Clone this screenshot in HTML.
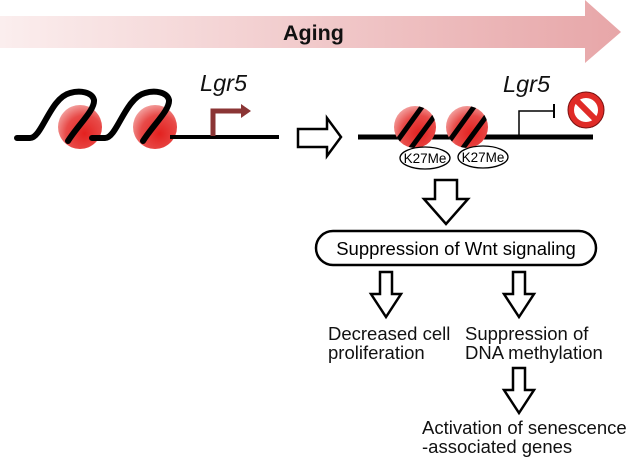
<!DOCTYPE html>
<html><head><style>
body{margin:0;width:628px;height:458px;background:#fff;overflow:hidden}
svg{display:block}
text{font-family:"Liberation Sans",Arial,sans-serif}
</style></head><body>
<svg width="628" height="458" viewBox="0 0 628 458">
<defs>
<linearGradient id="ag" x1="0" x2="1" y1="0" y2="0">
<stop offset="0" stop-color="#fbeeee"/><stop offset="1" stop-color="#e7a6a8"/>
</linearGradient>
<radialGradient id="nuc" cx="0.6" cy="0.65" r="0.7">
<stop offset="0" stop-color="#e3211f"/><stop offset="0.6" stop-color="#e84a48"/><stop offset="1" stop-color="#f3a5a3"/>
</radialGradient>
<clipPath id="c1"><circle cx="415" cy="127" r="21"/></clipPath>
<clipPath id="c2"><circle cx="467" cy="127" r="21"/></clipPath>
</defs>
<polygon points="0,16 585,16 585,0 621,32 585,63 585,48 0,48" fill="url(#ag)"/>
<text x="283" y="40" font-size="21.5" font-weight="bold" fill="#111">Aging</text>

<!-- left -->
<circle cx="80" cy="127" r="22" fill="url(#nuc)"/>
<circle cx="155" cy="127" r="22" fill="url(#nuc)"/>
<line x1="170" y1="137" x2="279" y2="137" stroke="#000" stroke-width="4"/>
<path d="M17,138 L30,138 C42,138 50,98 70,93 C80,90 92,92 94,100 C95,110 78,125 68,141" fill="none" stroke="#000" stroke-width="6" stroke-linecap="round"/>
<path d="M92,138 L105,138 C117,138 125,98 145,93 C155,90 167,92 169,100 C170,110 153,125 143,141" fill="none" stroke="#000" stroke-width="6" stroke-linecap="round"/>
<path d="M213,136 L213,111 L243,111" fill="none" stroke="#8b3535" stroke-width="5"/>
<polygon points="241,104 251,111 241,118" fill="#8b3535"/>
<text x="200" y="91" font-size="23.5" font-style="italic" fill="#111">Lgr5</text>

<polygon points="298,129 327,129 327,118 341,137 327,156 327,147 298,147" fill="#fff" stroke="#000" stroke-width="2.5"/>

<!-- right -->
<line x1="358" y1="137" x2="593" y2="137" stroke="#000" stroke-width="5"/>
<circle cx="415" cy="127" r="21" fill="url(#nuc)"/>
<circle cx="467" cy="127" r="21" fill="url(#nuc)"/>
<g clip-path="url(#c1)" stroke="#000" stroke-width="5">
<line x1="398" y1="140" x2="424" y2="104"/><line x1="408" y1="152" x2="436" y2="114"/>
</g>
<g clip-path="url(#c2)" stroke="#000" stroke-width="5">
<line x1="450" y1="140" x2="476" y2="104"/><line x1="460" y1="152" x2="488" y2="114"/>
</g>
<ellipse cx="425" cy="158" rx="25" ry="11" fill="#fff" stroke="#000" stroke-width="1.3"/>
<text x="425" y="163" font-size="13.5" text-anchor="middle">K27Me</text>
<ellipse cx="483" cy="157" rx="25" ry="11" fill="#fff" stroke="#000" stroke-width="1.3"/>
<text x="483" y="162" font-size="13.5" text-anchor="middle">K27Me</text>
<path d="M519,135 L519,111 L553,111" fill="none" stroke="#000" stroke-width="1.5"/>
<line x1="554" y1="104" x2="554" y2="118" stroke="#000" stroke-width="2"/>
<text x="503" y="92" font-size="23.5" font-style="italic" fill="#111">Lgr5</text>
<circle cx="586" cy="110" r="18" fill="#e02b27" stroke="#7a1010" stroke-width="1"/>
<circle cx="586" cy="110" r="12" fill="#fff"/>
<line x1="577" y1="101" x2="595" y2="119" stroke="#e02b27" stroke-width="6"/>

<polygon points="435,180 457,180 457,199 468,199 446,224 424,199 435,199" fill="#fff" stroke="#000" stroke-width="2.5"/>

<rect x="316" y="231" width="280" height="34" rx="17" fill="#fff" stroke="#000" stroke-width="2.5"/>
<text x="456" y="255" font-size="18.5" text-anchor="middle">Suppression of Wnt signaling</text>

<polygon points="380,272 392,272 392,294 401,294 386,317 371,294 380,294" fill="#fff" stroke="#000" stroke-width="2.5"/>
<polygon points="513,272 525,272 525,294 534,294 519,317 504,294 513,294" fill="#fff" stroke="#000" stroke-width="2.5"/>
<polygon points="513,368 525,368 525,390 534,390 519,413 504,390 513,390" fill="#fff" stroke="#000" stroke-width="2.5"/>

<g font-size="18.5" fill="#111">
<text x="328" y="340">Decreased cell</text>
<text x="328" y="359">proliferation</text>
<text x="465" y="340">Suppression of</text>
<text x="465" y="359">DNA methylation</text>
<text x="422" y="434">Activation of senescence</text>
<text x="422" y="453">-associated genes</text>
</g>
</svg>
</body></html>
